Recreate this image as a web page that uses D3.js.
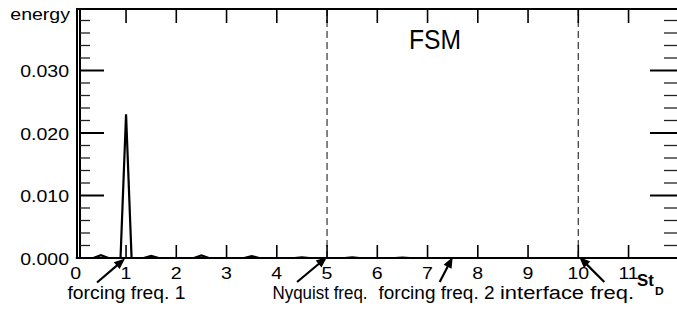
<!DOCTYPE html>
<html>
<head>
<meta charset="utf-8">
<script src="https://cdn.jsdelivr.net/npm/d3@7"></script>
<style>
  html, body { margin: 0; padding: 0; background: #fff; }
  svg { display: block; }
  text { font-family: "Liberation Sans", Arial, Helvetica, sans-serif; fill: #000; }
</style>
</head>
<body>
<svg id="chart" width="677" height="311"></svg>
<script>
// ---- data ----
const xTicks = [0, 1, 2, 3, 4, 5, 6, 7, 8, 9, 10, 11];
const xTickLabels = ["0", "1", "2", "3", "4", "5", "6", "7", "8", "9", "10", "11"];
const yTicks = [0, 0.01, 0.02, 0.03];
const yTickLabels = ["0.000", "0.010", "0.020", "0.030"];
const yMinorStep = 0.002;
const freq   = [0, 0.35, 0.5, 0.65, 0.89, 1.0, 1.11, 1.35, 1.5, 1.65, 2.35, 2.5, 2.65, 3.35, 3.5, 3.65, 4.35, 4.5, 4.65, 5.35, 5.5, 5.65, 6.35, 6.5, 6.65, 12];
const energy = [0, 0, 0.00045, 0, 0, 0.0230, 0, 0, 0.00035, 0, 0, 0.0004, 0, 0, 0.0003, 0, 0, 0.00012, 0, 0, 0.0001, 0, 0, 0.00006, 0, 0];
const dashedFreqs = [5, 10];
const annotFreqs = [1, 5, 7.5, 10];
const annotLabels = ["forcing freq. 1", "Nyquist freq.", "forcing freq. 2", "interface freq."];
const yLabel = "energy";
const xLabelMain = "St";
const xLabelSub = "D";
const panelTitle = "FSM";

// ---- layout ----
const svg = d3.select("#chart");
const x = d3.scaleLinear().domain([0, 12]).range([75.8, 678.8]);
const y = d3.scaleLinear().domain([0, 0.04]).range([258, 8]);
const plotTop = 9, plotBottom = 258, rightEdge = 677;
const TX = 1.15; // horizontal stretch of text

function txt(g, s, px, py, size, anchor, sx, weight) {
  return g.append("text")
    .attr("transform", `translate(${px},${py}) scale(${sx},1)`)
    .attr("text-anchor", anchor)
    .attr("font-size", size)
    .attr("font-weight", weight || "normal")
    .text(s);
}

// dashed reference lines
svg.selectAll("line.dash").data(dashedFreqs).enter().append("line")
  .attr("x1", d => x(d)).attr("x2", d => x(d))
  .attr("y1", plotTop).attr("y2", plotBottom)
  .attr("stroke", "#444").attr("stroke-width", 1.3)
  .attr("stroke-dasharray", "7,4");

// top border + ticks
svg.append("line").attr("x1", 76).attr("x2", rightEdge).attr("y1", plotTop).attr("y2", plotTop)
  .attr("stroke", "#000").attr("stroke-width", 2);
svg.selectAll("line.ttick").data(xTicks.filter(d => d > 0)).enter().append("line")
  .attr("x1", d => x(d)).attr("x2", d => x(d)).attr("y1", plotTop).attr("y2", plotTop + 14)
  .attr("stroke", "#000").attr("stroke-width", 1.6);

// bottom ticks
svg.selectAll("line.btick").data(xTicks.filter(d => d > 0)).enter().append("line")
  .attr("x1", d => x(d)).attr("x2", d => x(d)).attr("y1", plotBottom).attr("y2", plotBottom - 13)
  .attr("stroke", "#000").attr("stroke-width", 1.6);

// left axis (double line)
[77, 80].forEach(px => {
  svg.append("line").attr("x1", px).attr("x2", px).attr("y1", plotTop - 1).attr("y2", plotBottom + 1)
    .attr("stroke", "#000").attr("stroke-width", 2);
});

// y ticks left & right
const minor = d3.range(0, 0.0401, yMinorStep).filter(v => !yTicks.some(t => Math.abs(t - v) < 1e-9) && v < 0.0399);
svg.selectAll("line.lminor").data(minor).enter().append("line")
  .attr("x1", 80).attr("x2", 90).attr("y1", d => y(d)).attr("y2", d => y(d))
  .attr("stroke", "#222").attr("stroke-width", 1.3);
svg.selectAll("line.lmajor").data(yTicks.filter(d => d > 0)).enter().append("line")
  .attr("x1", 80).attr("x2", 104).attr("y1", d => y(d)).attr("y2", d => y(d))
  .attr("stroke", "#000").attr("stroke-width", 2);
svg.selectAll("line.rminor").data(minor).enter().append("line")
  .attr("x1", rightEdge - 13).attr("x2", rightEdge).attr("y1", d => y(d)).attr("y2", d => y(d))
  .attr("stroke", "#222").attr("stroke-width", 1.3);
svg.selectAll("line.rmajor").data(yTicks.filter(d => d > 0)).enter().append("line")
  .attr("x1", rightEdge - 27).attr("x2", rightEdge).attr("y1", d => y(d)).attr("y2", d => y(d))
  .attr("stroke", "#000").attr("stroke-width", 2);

// bottom axis line
svg.append("line").attr("x1", 76).attr("x2", rightEdge).attr("y1", plotBottom).attr("y2", plotBottom)
  .attr("stroke", "#000").attr("stroke-width", 2.2);

// data line
const line = d3.line().x((d, i) => x(freq[i])).y(d => y(d));
svg.append("path").datum(energy).attr("d", line)
  .attr("fill", "none").attr("stroke", "#000").attr("stroke-width", 2.2)
  .attr("stroke-linejoin", "miter");

// tick labels
const g = svg.append("g");
yTicks.forEach((v, i) => txt(g, yTickLabels[i], 69, y(v) + 6.5, 17, "end", TX));
xTicks.forEach((v, i) => txt(g, xTickLabels[i], x(v), 278.5, 17, "middle", TX));
txt(g, yLabel, 70, 19.5, 17, "end", TX);

// St_D
txt(g, xLabelMain, 637, 286, 16, "start", 1.05, "bold");
txt(g, xLabelSub, 655, 294.5, 11.5, "start", 1.05, "bold");

// panel title
txt(g, panelTitle, 435, 49, 28, "middle", 0.88);

// annotations: arrows and labels
const tailOffsets = [[-28, 24], [-30, 25], [-13, 25], [25, 25]];
const tipOffsets = [[-1, 0.5], [0, -1], [0, -1], [1, -1]];
const labelSpans = [[67.5, 185.5], [272.5, 367.5], [378.5, 494.5], [500, 634]];
annotFreqs.forEach((f, i) => {
  const tx = x(f) + tipOffsets[i][0], ty = plotBottom + tipOffsets[i][1];
  const sx = tx + tailOffsets[i][0], sy = ty + tailOffsets[i][1];
  const dx = tx - sx, dy = ty - sy, L = Math.hypot(dx, dy);
  const ux = dx / L, uy = dy / L;
  const hl = 11, hw = 4.5;
  const bx = tx - ux * hl, by = ty - uy * hl;
  svg.append("line").attr("x1", sx).attr("y1", sy).attr("x2", bx + ux * 2).attr("y2", by + uy * 2)
    .attr("stroke", "#000").attr("stroke-width", 2.2);
  svg.append("path")
    .attr("d", `M${tx},${ty}L${bx - uy * hw},${by + ux * hw}L${bx + uy * hw},${by - ux * hw}Z`)
    .attr("fill", "#000");
  const [a, b] = labelSpans[i];
  g.append("text")
    .attr("x", a).attr("y", 298.5)
    .attr("font-size", 18)
    .attr("textLength", b - a)
    .attr("lengthAdjust", "spacingAndGlyphs")
    .text(annotLabels[i]);
});
</script>
</body>
</html>
